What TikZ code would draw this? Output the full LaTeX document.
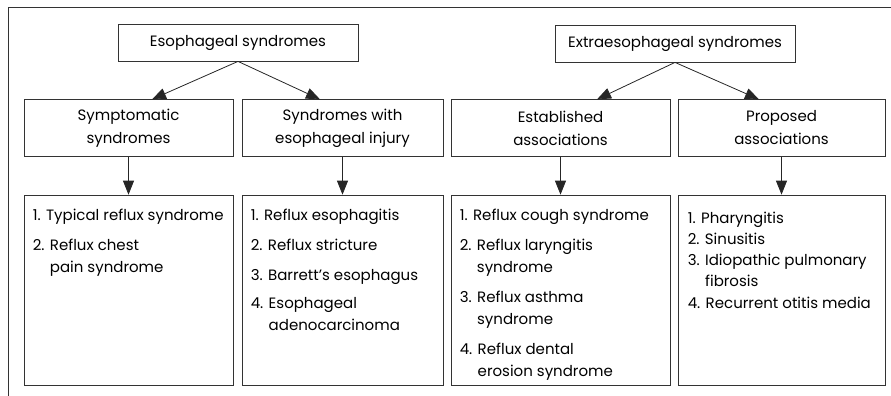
\documentclass[tikz,border=0pt]{standalone}
\usepackage{fontspec}
\setmainfont{Poppins}
\usetikzlibrary{arrows.meta, positioning}
\tikzset{node distance=38pt, % Gap between the middle row and the lists
every node/.style={ % Text of all boxes
font=\fontsize{15}{23}\selectfont},
topbox/.style={ % Two boxes of the upper row
draw=black!80, line width=0.8pt,
minimum width=240pt, minimum height=37pt, inner sep=0pt},
midbox/.style={ % Boxes of the middle row
draw=black!80, line width=0.8pt, align=center,
minimum height=56.5pt, inner sep=0pt},
listbox/.style={ % Boxes holding the lists
draw=black!80, line width=0.8pt,
minimum height=190pt, inner sep=0pt},
listtext/.style={ % Lists, left aligned in their box
anchor=north west, align=left, inner sep=0pt,
font=\fontsize{15}{22}\selectfont},
arr/.style={ % Connectors with filled heads
draw=black!85, line width=0.8pt,
-{Triangle[length=14pt,width=11pt]}}}

\begin{document}
\begin{tikzpicture}[x=1pt, y=-1pt]

    \useasboundingbox (0,0) rectangle (891,396);
    \draw[black!80, line width=0.8pt] (8,396) -- (8,7) -- (891,7);

    \node[topbox] (eso) at (238,42.5) {Esophageal syndromes};
    \node[topbox] (extra) at (675,43.5) {Extraesophageal syndromes};

    \node[midbox, minimum width=209pt] (symp) at (128.5,128) {Symptomatic\\syndromes};
    \node[midbox, minimum width=201pt] (injury) at (342.5,128) {Syndromes with\\esophageal injury};
    \node[midbox, minimum width=219pt] (estab) at (560.5,128) {Established\\associations};
    \node[midbox, minimum width=207pt] (prop) at (781.5,128) {Proposed\\associations};

    \node[listbox, minimum width=209pt, below=of symp] (symplist) {};
    \node[listbox, minimum width=201pt, below=of injury] (injurylist) {};
    \node[listbox, minimum width=219pt, below=of estab] (establist) {};
    \node[listbox, minimum width=207pt, below=of prop] (proplist) {};

    \node[listtext] (symptext) at ([xshift=9pt,yshift=-14pt]symplist.north west)
        {1. Typical reflux syndrome\\[8pt]
         2. Reflux chest\\\phantom{2. }pain syndrome};
    \node[listtext] (injurytext) at ([xshift=9pt,yshift=-14pt]injurylist.north west)
        {1. Reflux esophagitis\\[8pt]
         2. Reflux stricture\\[8pt]
         3. Barrett's esophagus\\[6pt]
         4. Esophageal\\\phantom{4. }adenocarcinoma};
    \node[listtext] (establtext) at ([xshift=9pt,yshift=-14pt]establist.north west)
        {1. Reflux cough syndrome\\[8pt]
         2. Reflux laryngitis\\\phantom{2. }syndrome\\[8pt]
         3. Reflux asthma\\\phantom{3. }syndrome\\[8pt]
         4. Reflux dental\\\phantom{4. }erosion syndrome};
    \node[listtext, font=\fontsize{15}{21.2}\selectfont] (proptext)
        at ([xshift=10pt,yshift=-17pt]proplist.north west)
        {1. Pharyngitis\\
         2. Sinusitis\\
         3. Idiopathic pulmonary\\\phantom{3. }fibrosis\\
         4. Recurrent otitis media};

    \draw[arr] (eso.south) -- ([xshift=23.5pt]symp.north);
    \draw[arr] (eso.south) -- ([xshift=-22.5pt]injury.north);
    \draw[arr] (extra.south) -- ([xshift=36.5pt]estab.north);
    \draw[arr] (extra.south) -- ([xshift=-22.5pt]prop.north);

    \draw[arr] (symp) -- (symplist);
    \draw[arr] (injury) -- (injurylist);
    \draw[arr] (estab) -- (establist);
    \draw[arr] (prop) -- (proplist);

\end{tikzpicture}
\end{document}
